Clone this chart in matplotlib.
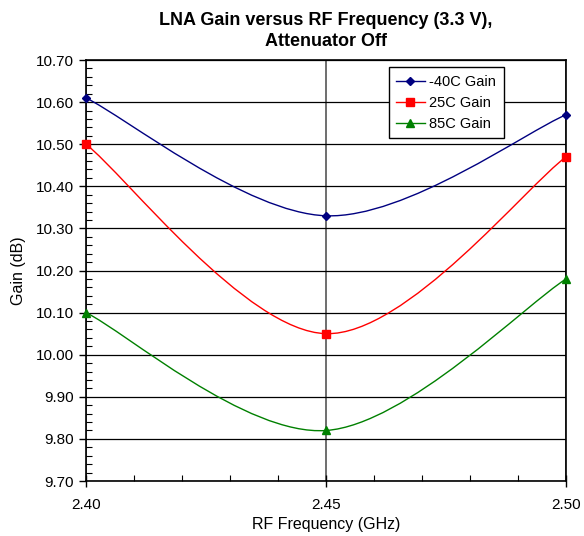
import numpy as np
import matplotlib.pyplot as plt
from matplotlib.path import Path
from matplotlib.patches import PathPatch
from matplotlib.ticker import MultipleLocator, FormatStrFormatter
from matplotlib.lines import Line2D

plt.rcParams['font.family'] = ['Liberation Sans', 'DejaVu Sans']

freq = [2.40, 2.45, 2.50]
gain_m40 = [10.61, 10.33, 10.57]
gain_25 = [10.50, 10.05, 10.47]
gain_85 = [10.10, 9.82, 10.18]
labels = ["-40C Gain", "25C Gain", "85C Gain"]
colors = ["#000080", "#FF0000", "#008000"]
markers = ["D", "s", "^"]
msizes = [4.5, 6, 6]


def smooth_path(x, y):
    # Excel-style smoothed line: cubic Bezier through the points
    pts = np.column_stack([x, y])
    n = len(pts)
    verts = [pts[0]]
    codes = [Path.MOVETO]
    for i in range(n - 1):
        p0 = pts[i - 1] if i > 0 else pts[i]
        p1 = pts[i]
        p2 = pts[i + 1]
        p3 = pts[i + 2] if i + 2 < n else pts[i + 1]
        c1 = p1 + (p2 - p0) / 6.0
        c2 = p2 - (p3 - p1) / 6.0
        verts += [c1, c2, p2]
        codes += [Path.CURVE4] * 3
    return Path(verts, codes)


fig = plt.figure(figsize=(5.84, 5.36), dpi=100)
ax = fig.add_axes([0.1473, 0.1026, 0.822, 0.7854])

for ys, c, m, ms, lab in zip([gain_m40, gain_25, gain_85], colors, markers, msizes, labels):
    ax.add_patch(PathPatch(smooth_path(freq, ys), facecolor="none", edgecolor=c, lw=1.0, zorder=3))
    ax.plot(freq, ys, linestyle="none", marker=m, color=c, markersize=ms, zorder=4, clip_on=False)

ax.set_xlim(2.40, 2.50)
ax.set_ylim(9.70, 10.70)
ax.xaxis.set_major_locator(MultipleLocator(0.05))
ax.xaxis.set_minor_locator(MultipleLocator(0.01))
ax.yaxis.set_major_locator(MultipleLocator(0.10))
ax.yaxis.set_minor_locator(MultipleLocator(0.02))
ax.xaxis.set_major_formatter(FormatStrFormatter("%.2f"))
ax.yaxis.set_major_formatter(FormatStrFormatter("%.2f"))
ax.tick_params(axis="both", which="major", direction="out", length=5, width=1, labelsize=11, colors="black")
ax.tick_params(axis="y", which="minor", direction="in", length=4, width=0.8)
ax.tick_params(axis="x", which="minor", direction="in", length=4, width=0.8)
ax.tick_params(axis="x", which="major", direction="inout", length=8, pad=8)
ax.grid(True, axis="y", which="major", color="black", lw=0.9, zorder=1)
ax.grid(True, axis="x", which="major", color="#555555", lw=1.2, zorder=1)
for s in ax.spines.values():
    s.set_linewidth(1.2)
ax.set_axisbelow(True)

ax.set_xlabel("RF Frequency (GHz)", fontsize=11.5)
ax.set_ylabel("Gain (dB)", fontsize=11.5, labelpad=7)
fig.text(0.558, 1 - 31 / 536, "LNA Gain versus RF Frequency (3.3 V),\nAttenuator Off",
         ha="center", va="center", fontsize=13, fontweight="bold", linespacing=1.3)

handles = [Line2D([], [], color=c, marker=m, markersize=ms, lw=1.0) for c, m, ms in zip(colors, markers, msizes)]
leg = ax.legend(handles, labels, loc="upper left", bbox_to_anchor=(0.615, 1.0), fontsize=10.5,
                frameon=True, fancybox=False, edgecolor="black", framealpha=1,
                handlelength=2.0, handletextpad=0.3, borderpad=0.5, labelspacing=0.5)
leg.get_frame().set_linewidth(1.0)

fig.savefig("out.png", dpi=100)
